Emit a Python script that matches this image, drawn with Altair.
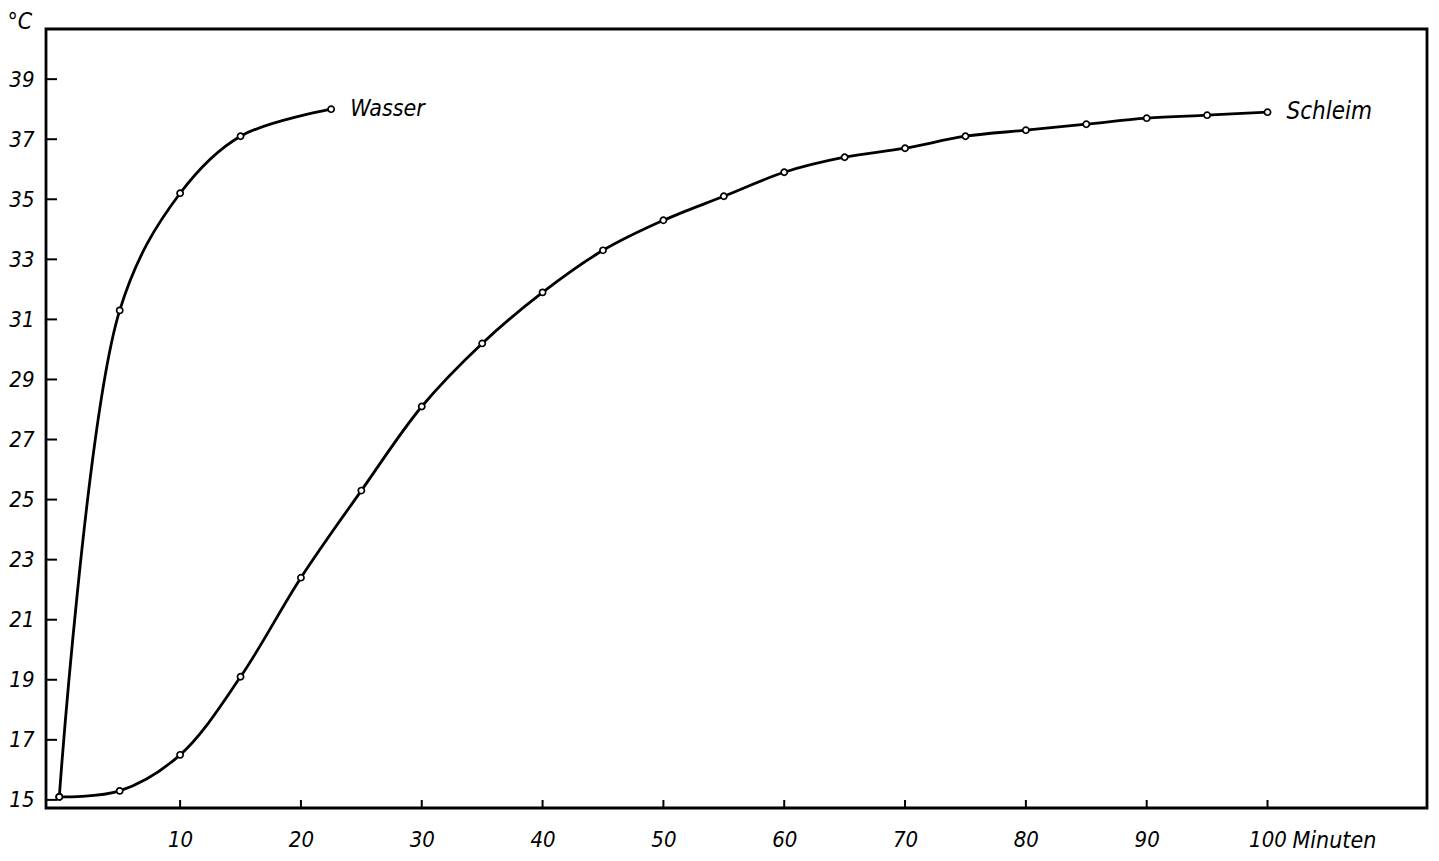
import altair as alt
import pandas as pd

# ---- data ----
wasser_t = [0, 5, 10, 15, 22.5]
wasser_c = [15.1, 31.3, 35.2, 37.1, 38.0]

schleim_t = [0, 5, 10, 15, 20, 25, 30, 35, 40, 45, 50, 55, 60, 65, 70, 75, 80, 85, 90, 95, 100]
schleim_c = [15.1, 15.3, 16.5, 19.1, 22.4, 25.3, 28.1, 30.2, 31.9, 33.3, 34.3, 35.1,
             35.9, 36.4, 36.7, 37.1, 37.3, 37.5, 37.7, 37.8, 37.9]

series_names = ["Wasser", "Schleim"]
x_ticks = [10, 20, 30, 40, 50, 60, 70, 80, 90, 100]
y_ticks = [15, 17, 19, 21, 23, 25, 27, 29, 31, 33, 35, 37, 39]

# ---- layout ----
W, H = 1381, 779
XDOM = [-1.1, 113.2]
YDOM = [14.73, 40.67]
FONT = "DejaVu Sans Condensed"

df = pd.DataFrame({
    "t": wasser_t + schleim_t,
    "c": wasser_c + schleim_c,
    "serie": [series_names[0]] * len(wasser_t) + [series_names[1]] * len(schleim_t),
})
lab = pd.DataFrame({
    "t": [wasser_t[-1], schleim_t[-1]],
    "c": [wasser_c[-1], schleim_c[-1]],
    "name": series_names,
    "size": [23, 24],
})
xt = pd.DataFrame({"t": x_ticks})
yt = pd.DataFrame({"c": y_ticks})

xscale = alt.Scale(domain=XDOM, nice=False, zero=False)
yscale = alt.Scale(domain=YDOM, nice=False, zero=False)

x_axis = alt.Axis(
    values=x_ticks, domain=False, ticks=False, grid=False,
    labelFont=FONT, labelFontStyle="italic", labelFontSize=22, labelColor="black",
    labelPadding=21, labelBaseline="top",
    title="Minuten", titleFont=FONT, titleFontStyle="italic", titleFontWeight="normal",
    titleFontSize=23, titleColor="black", titleAlign="left", titleAngle=0,
    titleX=1246, titleY=39, titleBaseline="alphabetic",
)
y_axis = alt.Axis(
    values=y_ticks, domain=False, ticks=False, grid=False,
    labelFont=FONT, labelFontStyle="italic", labelFontSize=22, labelColor="black",
    labelPadding=12,
    title="°C", titleFont=FONT, titleFontStyle="italic", titleFontWeight="normal",
    titleFontSize=23, titleColor="black", titleAngle=0, titleAlign="left",
    titleX=-39, titleY=-1, titleBaseline="alphabetic",
)

X = alt.X("t:Q", scale=xscale, axis=x_axis)
Y = alt.Y("c:Q", scale=yscale, axis=y_axis)

base = alt.Chart(df)

lines = base.mark_line(interpolate="catmull-rom", color="black", strokeWidth=2.8).encode(
    x=X, y=Y, detail="serie:N",
)

points = base.mark_point(shape="circle", filled=True, fill="white", stroke="black",
                         strokeWidth=1.7, size=38, opacity=1).encode(x=X, y=Y)

labels = alt.Chart(lab).mark_text(align="left", baseline="middle", dx=19, font=FONT,
                                  fontStyle="italic", color="black").encode(
    x=X, y=Y, text="name:N",
    size=alt.Size("size:Q", scale=None, legend=None),
)

xticks = alt.Chart(xt).mark_rule(color="black", strokeWidth=2).encode(
    x=X, y=alt.value(H), y2=alt.value(H - 8),
)

yticks = alt.Chart(yt).mark_rule(color="black", strokeWidth=2).encode(
    y=Y, x=alt.value(0), x2=alt.value(11),
)

chart = alt.layer(lines, xticks, yticks, points, labels).properties(
    width=W, height=H,
    autosize=alt.AutoSizeParams(type="none"),
    padding={"left": 38, "top": 21, "right": 4, "bottom": 44},
    background="white",
).configure_view(stroke="black", strokeWidth=2.8)

chart.save("out.html", embed_options={"renderer": "svg", "actions": False})
